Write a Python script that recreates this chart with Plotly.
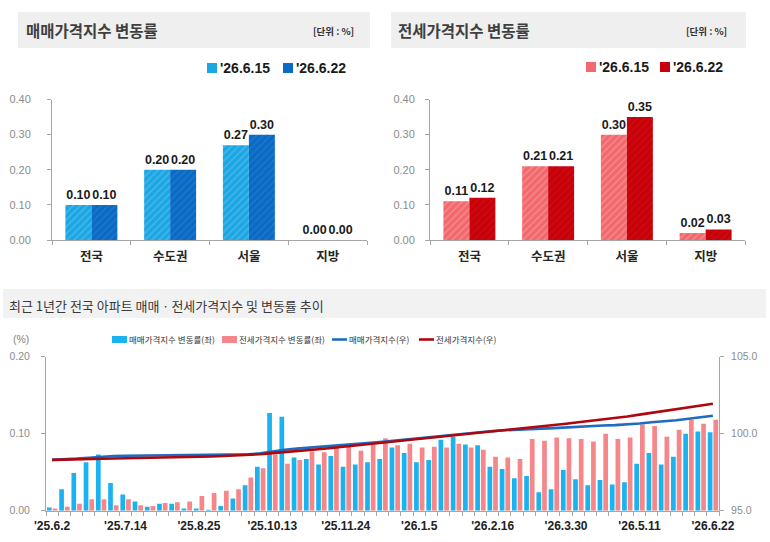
import plotly.graph_objects as go

W, H = 770, 542


def px(x):
    return x / W


def py(y):
    return 1 - y / H


# ---------------- data ----------------
regions = ["전국", "수도권", "서울", "지방"]
prev_week = "'26.6.15"
curr_week = "'26.6.22"
sale_prev = [0.10, 0.20, 0.27, 0.00]
sale_curr = [0.10, 0.20, 0.30, 0.00]
jeonse_prev = [0.11, 0.21, 0.30, 0.02]
jeonse_curr = [0.12, 0.21, 0.35, 0.03]

weeks = [
    "'25.6.2", "'25.6.9", "'25.6.16", "'25.6.23", "'25.6.30",
    "'25.7.7", "'25.7.14", "'25.7.21", "'25.7.28",
    "'25.8.4", "'25.8.11", "'25.8.18", "'25.8.25",
    "'25.9.1", "'25.9.8", "'25.9.15", "'25.9.22", "'25.9.29",
    "'25.10.13", "'25.10.20", "'25.10.27",
    "'25.11.3", "'25.11.10", "'25.11.17", "'25.11.24",
    "'25.12.1", "'25.12.8", "'25.12.15", "'25.12.22", "'25.12.29",
    "'26.1.5", "'26.1.12", "'26.1.19", "'26.1.26",
    "'26.2.2", "'26.2.9", "'26.2.16", "'26.2.23",
    "'26.3.2", "'26.3.9", "'26.3.16", "'26.3.23", "'26.3.30",
    "'26.4.6", "'26.4.13", "'26.4.20", "'26.4.27",
    "'26.5.4", "'26.5.11", "'26.5.18", "'26.5.25",
    "'26.6.1", "'26.6.8", "'26.6.15", "'26.6.22",
]
tick_labels = ["'25.6.2", "'25.7.14", "'25.8.25", "'25.10.13", "'25.11.24",
               "'26.1.5", "'26.2.16", "'26.3.30", "'26.5.11", "'26.6.22"]

sale_rate = [
    0.004, 0.028, 0.049, 0.063, 0.073, 0.036, 0.021, 0.012, 0.005, 0.009,
    0.009, 0.003, 0.003, 0.001, 0.006, 0.016, 0.033, 0.057, 0.127, 0.122,
    0.069, 0.067, 0.060, 0.071, 0.057, 0.060, 0.063, 0.067, 0.082, 0.075,
    0.063, 0.066, 0.092, 0.096, 0.086, 0.085, 0.057, 0.054, 0.042, 0.045,
    0.024, 0.028, 0.053, 0.041, 0.033, 0.040, 0.034, 0.037, 0.061, 0.075,
    0.060, 0.070, 0.100, 0.103, 0.102,
]
jeonse_rate = [
    0.003, 0.005, 0.009, 0.015, 0.015, 0.007, 0.015, 0.007, 0.006, 0.010,
    0.011, 0.012, 0.019, 0.023, 0.026, 0.028, 0.043, 0.055, 0.073, 0.061,
    0.066, 0.077, 0.076, 0.082, 0.084, 0.078, 0.086, 0.094, 0.085, 0.087,
    0.082, 0.083, 0.082, 0.087, 0.082, 0.079, 0.070, 0.069, 0.067, 0.093,
    0.091, 0.095, 0.094, 0.093, 0.090, 0.100, 0.093, 0.095, 0.112, 0.110,
    0.096, 0.105, 0.118, 0.113, 0.118,
]
sale_index = [
    98.30, 98.33, 98.38, 98.44, 98.51, 98.55, 98.57, 98.58, 98.58, 98.59,
    98.60, 98.60, 98.61, 98.61, 98.61, 98.63, 98.66, 98.72, 98.84, 98.96,
    99.03, 99.10, 99.16, 99.23, 99.28, 99.34, 99.41, 99.47, 99.55, 99.63,
    99.69, 99.76, 99.85, 99.94, 100.03, 100.11, 100.17, 100.22, 100.27, 100.31,
    100.33, 100.36, 100.41, 100.46, 100.49, 100.53, 100.56, 100.60, 100.66, 100.74,
    100.80, 100.87, 100.97, 101.07, 101.17,
]
jeonse_index = [
    98.30, 98.31, 98.33, 98.35, 98.37, 98.39, 98.41, 98.42, 98.44, 98.45,
    98.47, 98.48, 98.50, 98.52, 98.55, 98.58, 98.62, 98.67, 98.74, 98.80,
    98.87, 98.94, 99.01, 99.09, 99.17, 99.25, 99.33, 99.42, 99.50, 99.59,
    99.67, 99.75, 99.83, 99.92, 100.00, 100.08, 100.15, 100.22, 100.29, 100.38,
    100.47, 100.56, 100.65, 100.74, 100.83, 100.93, 101.02, 101.12, 101.24, 101.36,
    101.46, 101.57, 101.70, 101.82, 101.95,
]

# ---------------- style ----------------
KR = "Noto Sans CJK KR"
NUM = "Liberation Sans, Arial, sans-serif"
AX = "#A6A6A6"
TICK_GRAY = "#8C8C8C"

C_SP, C_SP_FG = "#1BA6E4", "#45B7EA"
C_SC, C_SC_FG = "#0A6AC4", "#1B77CB"
C_JP, C_JP_FG = "#F2686C", "#F6898C"
C_JC, C_JC_FG = "#C80009", "#CC0A12"
C_BAR_B = "#1BB2F0"
C_BAR_P = "#F5878B"
C_LINE_B = "#1F6BC0"
C_LINE_R = "#B0060E"

fig = go.Figure()


def top_bar(x, y, color, fg, xa, ya, offset, name):
    return go.Bar(
        x=x, y=y, name=name, xaxis=xa, yaxis=ya,
        marker=dict(color=color, line=dict(width=0),
                    pattern=dict(shape="/", fgcolor=fg, bgcolor=color,
                                 size=5, solidity=0.3, fillmode="replace")),
        width=0.33, offset=offset,
        texttemplate="%{y:.2f}", textposition="outside", constraintext="none",
        cliponaxis=False,
        textfont=dict(family=NUM, size=12.5, color="#1A1A1A", weight="bold"),
        showlegend=False, hoverinfo="skip",
    )


fig.add_trace(top_bar(regions, sale_prev, C_SP, C_SP_FG, "x", "y", -0.33, prev_week))
fig.add_trace(top_bar(regions, sale_curr, C_SC, C_SC_FG, "x", "y", 0.0, curr_week))
fig.add_trace(top_bar(regions, jeonse_prev, C_JP, C_JP_FG, "x2", "y2", -0.33, prev_week))
fig.add_trace(top_bar(regions, jeonse_curr, C_JC, C_JC_FG, "x2", "y2", 0.0, curr_week))

fig.add_trace(go.Bar(x=weeks, y=sale_rate, xaxis="x3", yaxis="y3",
                     marker=dict(color=C_BAR_B, line=dict(width=0)),
                     width=0.385, offset=-0.42, name="매매가격지수 변동률(좌)",
                     showlegend=False, hoverinfo="skip"))
fig.add_trace(go.Bar(x=weeks, y=jeonse_rate, xaxis="x3", yaxis="y3",
                     marker=dict(color=C_BAR_P, line=dict(width=0)),
                     width=0.385, offset=0.045, name="전세가격지수 변동률(좌)",
                     showlegend=False, hoverinfo="skip"))
fig.add_trace(go.Scatter(x=weeks, y=sale_index, xaxis="x3", yaxis="y4", mode="lines",
                         line=dict(color=C_LINE_B, width=2.6), name="매매가격지수(우)",
                         showlegend=False, hoverinfo="skip"))
fig.add_trace(go.Scatter(x=weeks, y=jeonse_index, xaxis="x3", yaxis="y4", mode="lines",
                         line=dict(color=C_LINE_R, width=2.6), name="전세가격지수(우)",
                         showlegend=False, hoverinfo="skip"))

top_x = dict(type="category", showline=True, linecolor=AX, linewidth=1,
             ticks="outside", tickson="boundaries", ticklen=4, tickcolor=AX,
             tickfont=dict(family=KR, size=12.5, color="#262626", weight="bold"),
             showgrid=False, zeroline=False, automargin=False, ticklabelstandoff=5,
             tickangle=0, fixedrange=True)
top_y = dict(range=[0, 0.40], dtick=0.1, tick0=0, tickformat=".2f", showline=True,
             linecolor=AX, linewidth=1, ticks="outside", ticklen=4, tickcolor=AX,
             tickfont=dict(family=NUM, size=11, color=TICK_GRAY),
             showgrid=False, zeroline=False, automargin=False, fixedrange=True)

ytop = [py(240), py(99.5)]
fig.update_layout(
    width=W, height=H, margin=dict(l=0, r=0, t=0, b=0),
    paper_bgcolor="white", plot_bgcolor="white",
    barmode="group", bargap=0.34, bargroupgap=0,
    showlegend=False,
    xaxis=dict(top_x, domain=[px(52), px(367)], anchor="y"),
    yaxis=dict(top_y, domain=ytop, anchor="x", ticklabelstandoff=14),
    xaxis2=dict(top_x, domain=[px(430), px(745)], anchor="y2"),
    yaxis2=dict(top_y, domain=ytop, anchor="x2", ticklabelstandoff=8),
    xaxis3=dict(type="category", domain=[px(46), px(719)], anchor="y3",
                tickvals=weeks,
                ticktext=[w if w in tick_labels else "" for w in weeks],
                tickangle=0,
                showline=True, linecolor=AX, linewidth=1, ticks="outside",
                tickson="boundaries", ticklen=4, tickcolor=AX,
                tickfont=dict(family=NUM, size=12, color="#222222", weight="bold"),
                showgrid=False, zeroline=False, automargin=False,
                ticklabelstandoff=4, fixedrange=True),
    yaxis3=dict(domain=[py(510.7), py(356.7)], anchor="x3", range=[0, 0.20],
                dtick=0.1, tick0=0, tickformat=".2f", showline=True, linecolor=AX,
                linewidth=1, ticks="outside", ticklen=4, tickcolor=AX,
                tickfont=dict(family=NUM, size=10.5, color=TICK_GRAY),
                showgrid=False, zeroline=False, automargin=False,
                ticklabelstandoff=9, fixedrange=True),
    yaxis4=dict(overlaying="y3", side="right", anchor="x3", range=[95, 105],
                dtick=5, tick0=95, tickformat=".1f", showline=True, linecolor=AX,
                linewidth=1, ticks="outside", ticklen=4, tickcolor=AX,
                tickfont=dict(family=NUM, size=10.5, color=TICK_GRAY),
                showgrid=False, zeroline=False, automargin=False,
                ticklabelstandoff=5, fixedrange=True),
)

shapes = []
annotations = []


def rect(x0, y0, x1, y1, color):
    shapes.append(dict(type="rect", xref="paper", yref="paper",
                       x0=px(x0), x1=px(x1), y0=py(y1), y1=py(y0),
                       fillcolor=color, line=dict(width=0), layer="below"))


def hline(x0, x1, y, color):
    shapes.append(dict(type="line", xref="paper", yref="paper",
                       x0=px(x0), x1=px(x1), y0=py(y), y1=py(y),
                       line=dict(color=color, width=2.6)))


def text(x, y, s, size, color, family=KR, bold=False, xanchor="left"):
    annotations.append(dict(xref="paper", yref="paper", x=px(x), y=py(y), text=s,
                            showarrow=False, xanchor=xanchor, yanchor="middle",
                            font=dict(family=family, size=size, color=color,
                                      weight="bold" if bold else "normal")))


# title boxes
rect(18, 12, 370, 48, "#EFEFEF")
rect(391, 12, 746, 48, "#EFEFEF")
rect(3, 289, 766, 318, "#F2F2F2")

text(24, 30, "매매가격지수 변동률", 15.5, "#3F3F3F", bold=True)
text(356, 31, "[단위 : %]", 9.5, "#333333", bold=True, xanchor="right")
text(396, 30, "전세가격지수 변동률", 15.5, "#3F3F3F", bold=True)
text(729, 31, "[단위 : %]", 9.5, "#333333", bold=True, xanchor="right")

# top legends
rect(207, 63, 217, 73, C_SP)
text(218, 68, prev_week, 14, "#1A1A1A", family=NUM, bold=True)
rect(283, 63, 293, 73, C_SC)
text(294, 68, curr_week, 14, "#1A1A1A", family=NUM, bold=True)
rect(586, 62, 596, 72, C_JP)
text(597, 67, prev_week, 14, "#1A1A1A", family=NUM, bold=True)
rect(660, 62, 670, 72, C_JC)
text(671, 67, curr_week, 14, "#1A1A1A", family=NUM, bold=True)

# bottom title and legend
text(7, 305, "최근 1년간 전국 아파트 매매ㆍ전세가격지수 및 변동률 추이", 13, "#3A3A3A")
text(11, 339, "(%)", 10.5, "#7F7F7F", family=NUM)
LG = 8.5
rect(112, 336, 127, 343, C_BAR_B)
text(127, 339, "매매가격지수 변동률(좌)", LG, "#333333")
rect(222, 336, 237, 343, C_BAR_P)
text(237, 339, "전세가격지수 변동률(좌)", LG, "#333333")
hline(332, 347, 339.5, C_LINE_B)
text(347, 339, "매매가격지수(우)", LG, "#333333")
hline(419, 434, 339.5, C_LINE_R)
text(434, 339, "전세가격지수(우)", LG, "#333333")

fig.update_layout(shapes=shapes, annotations=annotations)
fig.write_html("out.html")
